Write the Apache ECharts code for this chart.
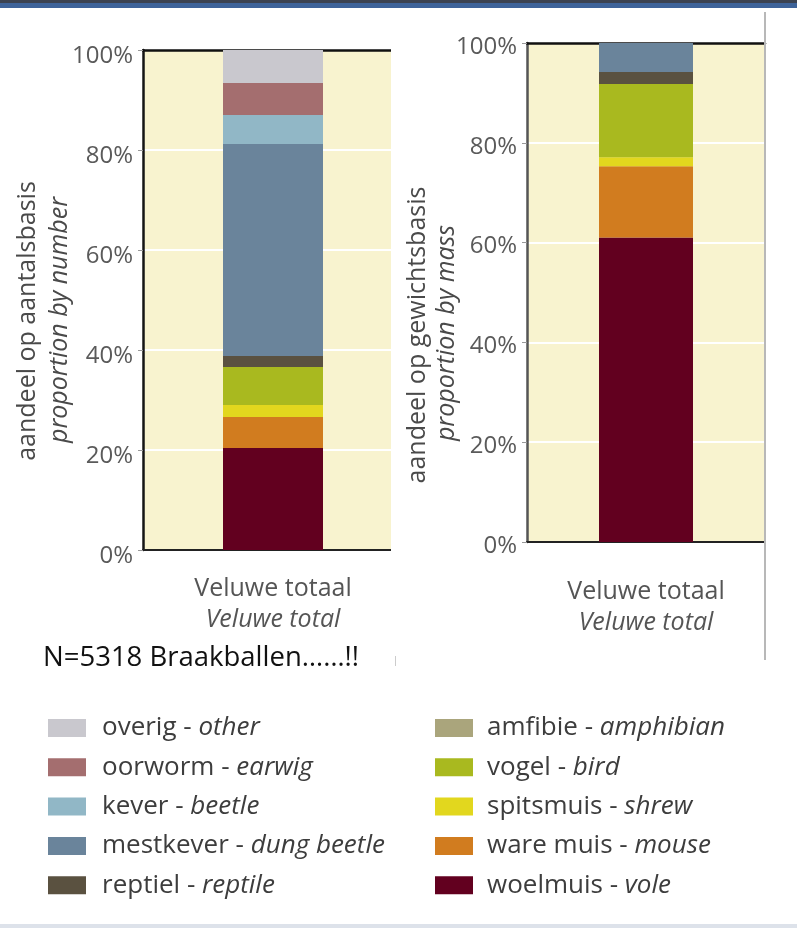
<!DOCTYPE html>
<html>
<head>
<meta charset="utf-8">
<script src="https://cdn.jsdelivr.net/npm/echarts@6/dist/echarts.min.js"></script>
<style>html,body{margin:0;padding:0;background:#fff}#c{width:797px;height:928px}</style>
</head>
<body>
<div id="c"></div>
<script>
// ---- data ----
const categories = ['Veluwe totaal'];
const categoriesEn = ['Veluwe total'];
const groups = ['woelmuis','ware muis','spitsmuis','vogel','amfibie','reptiel','mestkever','kever','oorworm','overig'];
const groupsEn = ['vole','mouse','shrew','bird','amphibian','reptile','dung beetle','beetle','earwig','other'];
const groupColors = ['#62001f','#d17c1f','#e2d71e','#a9b91f','#aaa57c','#5a5140','#6a849b','#91b7c6','#a46e6f','#c9c8ce'];
const shareByNumber = [20.4, 6.2, 2.4, 7.6, 0, 2.2, 42.4, 5.8, 6.4, 6.6];
const shareByMass   = [61.0, 14.3, 1.8, 14.7, 0, 2.4, 5.8, 0, 0, 0];
const legendLeft  = ['overig','oorworm','kever','mestkever','reptiel'];
const legendRight = ['amfibie','vogel','spitsmuis','ware muis','woelmuis'];
const yMin = 0, yMax = 100, yStep = 20;
const noteText = 'N=5318 Braakballen……!!';

const FF = '"Open Sans", sans-serif';
const chart = echarts.init(document.getElementById('c'));

function xAxes(gi, margin) {
  return [
    { gridIndex: gi, type: 'category', data: categories, position: 'bottom',
      axisLine: { lineStyle: { color: '#222', width: 2 } }, axisTick: { show: false },
      axisLabel: { margin: margin, fontFamily: FF, fontSize: 25, color: '#555', lineHeight: 31,
        formatter: (v, i) => v + '\n{i|' + categoriesEn[i] + '}',
        rich: { i: { fontStyle: 'italic', fontFamily: FF, fontSize: 25, color: '#555', lineHeight: 31 } } } },
    { gridIndex: gi, type: 'category', data: categories, position: 'top',
      axisLine: { lineStyle: { color: '#111', width: 2.5 } }, axisTick: { show: false }, axisLabel: { show: false } }
  ];
}
function yAxis(gi, lineColor, lh) {
  return { gridIndex: gi, type: 'value', min: yMin, max: yMax, interval: yStep,
    axisLine: { show: true, lineStyle: { color: lineColor, width: 2.5 } },
    axisTick: { show: true, length: 5, lineStyle: { color: '#999', width: 1 } },
    axisLabel: { formatter: '{value}%', fontFamily: FF, fontSize: 24, color: '#5a5a5a', margin: 10,
      verticalAlign: 'top', lineHeight: lh },
    splitLine: { show: true, lineStyle: { color: '#ffffff', width: 2 } } };
}

const series = [];
groups.forEach((g, i) => {
  series.push({ name: g, type: 'bar', stack: 'n', xAxisIndex: 0, yAxisIndex: 0, barWidth: 100,
    itemStyle: { color: groupColors[i] }, data: [shareByNumber[i]] });
  series.push({ name: g, type: 'bar', stack: 'm', xAxisIndex: 2, yAxisIndex: 1, barWidth: 94,
    itemStyle: { color: groupColors[i] }, data: [shareByMass[i]] });
});

function legendFor(names, left, textPad) {
  return { data: names, orient: 'vertical', left: left, top: 715, padding: 0, icon: 'rect',
    itemWidth: 38, itemHeight: 18, itemGap: 13.3, selectedMode: false,
    formatter: n => n + ' - {i|' + groupsEn[groups.indexOf(n)] + '}',
    textStyle: { fontFamily: FF, fontSize: 26, color: '#3d3d3d', padding: [0, 0, 0, textPad],
      rich: { i: { fontFamily: FF, fontStyle: 'italic', fontSize: 26, color: '#3d3d3d' } } } };
}

function vtitle(x, y, text, italic) {
  return { type: 'text', x: x, y: y, rotation: Math.PI / 2, z: 110,
    style: { text: text, fontFamily: FF, fontSize: 25, fontStyle: italic ? 'italic' : 'normal',
      fill: '#4a4a4a', align: 'center', verticalAlign: 'middle' } };
}

chart.setOption({
  animation: false,
  backgroundColor: '#ffffff',
  grid: [
    { left: 143, top: 50, width: 260, height: 500, show: true, backgroundColor: '#f8f3cf', borderWidth: 0 },
    { left: 527, top: 43, width: 238, height: 499, show: true, backgroundColor: '#f8f3cf', borderWidth: 0 }
  ],
  xAxis: [...xAxes(0, 23), ...xAxes(1, 34)],
  yAxis: [yAxis(0, '#151515', 12), yAxis(1, '#555', 8)],
  legend: [legendFor(legendLeft, 48, 11), legendFor(legendRight, 435, 9)],
  series: series,
  graphic: [
    { type: 'rect', shape: { x: 391, y: 30, width: 14, height: 540 }, style: { fill: '#ffffff' }, z: 100 },
    { type: 'rect', shape: { x: 0, y: 0, width: 797, height: 3 }, style: { fill: '#3b4250' }, z: 100 },
    { type: 'rect', shape: { x: 0, y: 3, width: 797, height: 5 }, style: { fill: '#3e6399' }, z: 100 },
    { type: 'rect', shape: { x: 0, y: 924, width: 797, height: 4 }, style: { fill: '#dde2ea' }, z: 100 },
    { type: 'rect', shape: { x: 764, y: 12, width: 2, height: 648 }, style: { fill: '#b8b8b8' }, z: 100 },
    { type: 'rect', shape: { x: 395, y: 656, width: 1, height: 10 }, style: { fill: '#cccccc' }, z: 100 },
    vtitle(28, 321, 'aandeel op aantalsbasis', false),
    vtitle(60, 320, 'proportion by number', true),
    vtitle(418, 335, 'aandeel op gewichtsbasis', false),
    vtitle(447, 333, 'proportion by mass', true),
    { type: 'text', x: 43, y: 658, z: 110,
      style: { text: noteText, fontFamily: '"Open Sans", sans-serif', fontSize: 27.5, fill: '#111', align: 'left', verticalAlign: 'middle' } }
  ]
});
</script>
</body>
</html>
